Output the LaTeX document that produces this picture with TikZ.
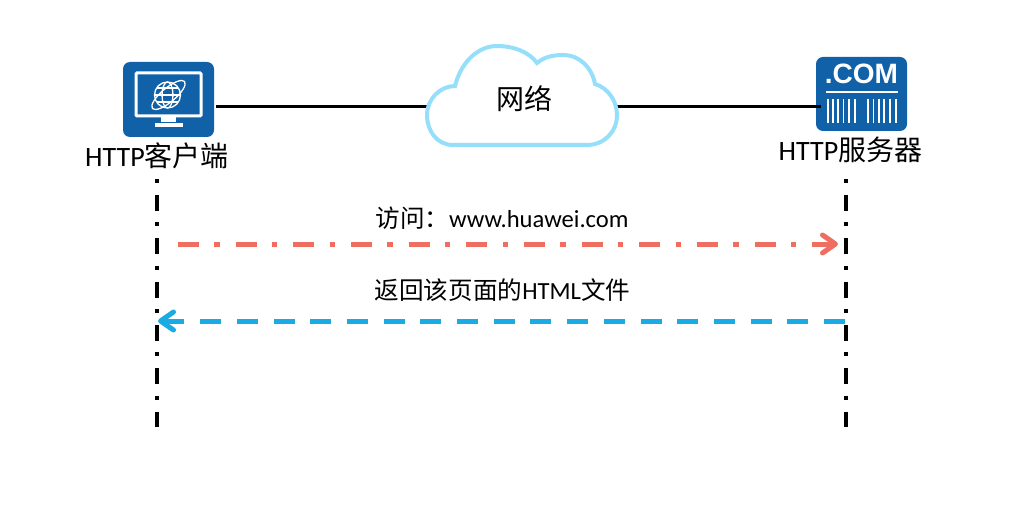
\documentclass[tikz,border=0pt]{standalone}
\usepackage{fontspec}
\setmainfont{Carlito}
\newfontfamily\cjk{Noto Sans CJK SC}
\newfontfamily\iconfont{Liberation Sans}
\usetikzlibrary{arrows.meta}
\definecolor{iconblue}{HTML}{1161A9}
\definecolor{cloudblue}{HTML}{96DFFA}
\definecolor{reqred}{HTML}{EE6F62}
\definecolor{respblue}{HTML}{1AABE4}
\tikzset{
  icon/.style={draw=none,fill=iconblue,rounded corners=7pt,minimum width=91pt,inner sep=0pt},
  label/.style={inner sep=0pt,font=\fontsize{28}{31}\selectfont},
  msg/.style={inner sep=0pt,font=\fontsize{24.6}{28}\selectfont},
  link/.style={line width=3pt},
  lifeline/.style={line width=4pt,dash pattern=on 4pt off 12pt on 16pt off 11.33pt},
  barb/.style={-{Straight Barb[length=13pt,width=18pt,round]}},
  req/.style={line width=5pt,reqred,barb,dash pattern=on 21pt off 15.35pt on 5.3pt off 16pt},
  resp/.style={line width=5pt,respblue,barb,dash pattern=on 21pt off 15.7pt},
  detail/.style={draw=white,line width=1.3pt},
}
\begin{document}
\begin{tikzpicture}[x=1pt,y=-1pt]
    \useasboundingbox (0,0) rectangle (1025,513);
    % client
    \node[icon,minimum height=75pt] (client) at (168.5,99.5) {};
    \draw[white,line width=3pt,rounded corners=1pt] (136,73) rectangle (201,116);
    \fill[white] (161,116) rectangle (176,122);
    \fill[white] (154.5,123) rectangle (183,127);
    \draw[detail] (167.5,95) circle (13);
    \draw[detail] (167.5,95) ellipse (5.5 and 13);
    \draw[detail] (154.5,95) -- (180.5,95);
    \draw[detail] (157,88) -- (178,88);
    \draw[detail] (157,102) -- (178,102);
    \draw[detail,rotate around={40:(168.5,95)}] (168.5,95) ellipse (21 and 7);
    % server
    \node[icon,minimum height=74pt] (server) at (861.5,94) {};
    \node[inner sep=0pt,white] (dotcom) at (861.5,74) {\iconfont\fontsize{28}{30}\selectfont\bfseries .COM};
    \fill[white] (825.5,91) rectangle (897.5,93.5);
    \foreach \x in {827.7,832.8,838,843.4,849,855,868.3,873.5,879,884.3,890,896}
      \fill[white] (\x-.9,99) rectangle (\x+.9,123);
    % cloud
    \coordinate (cloudW) at (427,106.5);
    \coordinate (cloudE) at (617,106.5);
    \coordinate (clientE) at (216,106.5);
    \coordinate (serverW) at (821,106.5);
    \draw[link] (clientE) -- (cloudW);
    \draw[link] (cloudE) -- (serverW);
    \draw[cloudblue,fill=white,line width=4pt] (453,145) .. controls (437,145) and (427,131) .. (427,115)
      .. controls (427,99) and (440,86) .. (455,86) .. controls (461,62) and (478,46) .. (497,46)
      .. controls (515,46) and (530,53) .. (537,63) .. controls (544,57) and (553,55) .. (563,55)
      .. controls (580,55) and (592,68) .. (595,84) .. controls (608,88) and (617,101) .. (617,115)
      .. controls (617,132) and (604,145) .. (587,145) -- cycle;
    \node[label] (cloud) at (524,99) {\cjk 网络};
    % labels
    \node[label] (clientlabel) at (157,156) {HTTP{\cjk 客户端}};
    \node[label] (serverlabel) at (850.5,150) {HTTP{\cjk 服务器}};
    % lifelines
    \coordinate (clienttop) at (157,179);
    \coordinate (clientend) at (157,427);
    \coordinate (servertop) at (846,179);
    \coordinate (serverend) at (846,427);
    \draw[lifeline] (clienttop) -- (clientend);
    \draw[lifeline] (servertop) -- (serverend);
    % messages
    \coordinate (reqstart) at (178,244);
    \coordinate (reqend) at (838,244);
    \coordinate (respstart) at (845,321);
    \coordinate (respend) at (158,321);
    \draw[req] (reqstart) -- (reqend);
    \draw[resp] (respstart) -- (respend);
    \node[msg] (reqlabel) at (502,218) {{\cjk 访问：}www.huawei.com};
    \node[msg] (resplabel) at (502.5,290) {{\cjk 返回该页面的}HTML{\cjk 文件}};
\end{tikzpicture}
\end{document}
